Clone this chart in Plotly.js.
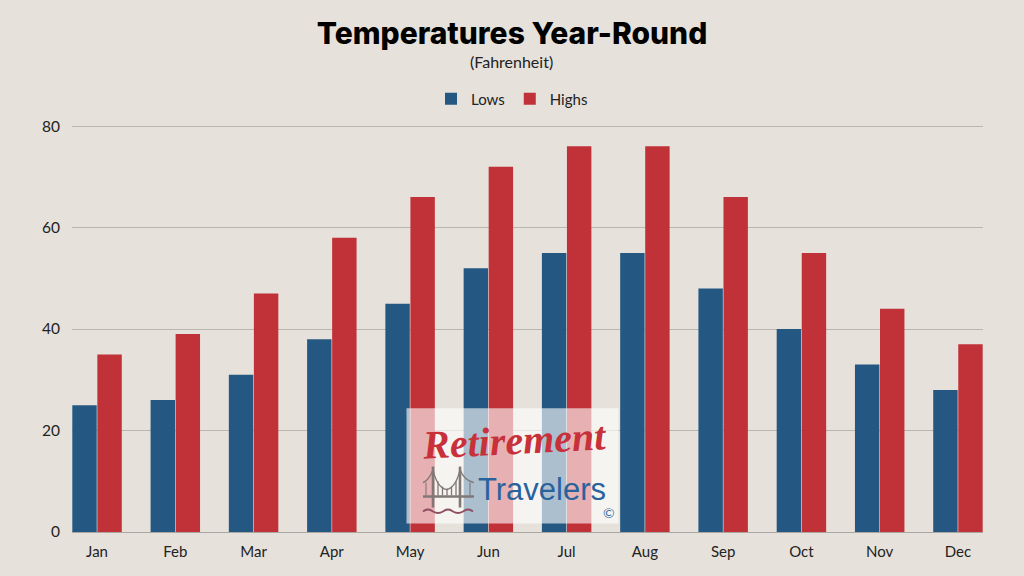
<!DOCTYPE html>
<html><head><meta charset="utf-8">
<script src="https://cdn.plot.ly/plotly-3.0.1.min.js"></script>
<style>html,body{margin:0;padding:0;background:#E6E1DB}</style></head>
<body><div id="chart" style="width:1024px;height:576px"></div>
<script>
const months = ["Jan","Feb","Mar","Apr","May","Jun","Jul","Aug","Sep","Oct","Nov","Dec"];
const lows = [25,26,31,38,45,52,55,55,48,40,33,28];
const highs = [35,39,47,58,66,72,76,76,66,55,44,37];
const tickValues = [0,20,40,60,80];
const seriesNames = ["Lows","Highs"];
const titleText = "Temperatures Year-Round";
const subtitleText = "(Fahrenheit)";

const L=72,R=983,T=121,B=532.5;
const px=x=>(x-L)/(R-L), py=y=>(B-y)/(B-T);
const P=(s)=>s.replace(/(-?[\d.]+),(-?[\d.]+)/g,(m,a,b)=>px(+a).toFixed(5)+","+py(+b).toFixed(5));
const FONT='Lato, "Open Sans", sans-serif';
const grey='#7f7877';
function path(d,color,w){return {type:'path',xref:'paper',yref:'paper',layer:'above',path:P(d),line:{color:color,width:w}};}
const shapes=[
 {type:'rect',xref:'paper',yref:'paper',layer:'above',x0:px(406.5),x1:px(618.5),y0:py(524),y1:py(408.5),fillcolor:'rgba(255,255,255,0.62)',line:{width:0}},
 path('M433,508 L433,467',grey,2.6),path('M460,508 L460,467',grey,2.6),
 path('M423,497 L474,497',grey,2.6),
 path('M423,483 Q429,481 433,470 Q437,488 446.5,490 Q456,488 460,470 Q464,481 474,483',grey,1.3),
 path('M438,482 L438,496',grey,1.3),path('M442.500,487 L442.500,496',grey,1.3),path('M447,489 L447,496',grey,1.3),path('M451.500,487 L451.500,496',grey,1.3),path('M456,482 L456,496',grey,1.3),
 path('M426,483 L426,496',grey,1.1),path('M470,483 L470,496',grey,1.1),
 path('M423,512 Q428,508 433,512 Q438,515 443,512 Q448,508 453,512 Q458,515 463,512 Q468,508 473,512','#8f4f62',1.8)
];
const annotations=[
 {text:subtitleText,xref:'paper',yref:'paper',x:px(511.5),y:py(61),xanchor:'center',yanchor:'middle',showarrow:false,font:{family:FONT,size:16,color:'#222'}},
 {text:'<i>Retirement</i>',xref:'paper',yref:'paper',x:px(514),y:py(441),xanchor:'center',yanchor:'middle',showarrow:false,textangle:-3,font:{family:'"Liberation Serif",serif',size:40,weight:700,color:'#c8303a'}},
 {text:'Travelers',xref:'paper',yref:'paper',x:px(542),y:py(490),xanchor:'center',yanchor:'middle',showarrow:false,font:{family:'"Liberation Sans",sans-serif',size:31,color:'#2a629c'}},
 {text:'©',xref:'paper',yref:'paper',x:px(609),y:py(513),xanchor:'center',yanchor:'middle',showarrow:false,font:{family:FONT,size:14,color:'#3d6f9e'}}
];
const data=[
 {type:'bar',name:seriesNames[0],x:months,y:lows,marker:{color:'#245882'}},
 {type:'bar',name:seriesNames[1],x:months,y:highs,marker:{color:'#C03138'}}
];
const layout={
 width:1024,height:576,paper_bgcolor:'#E6E1DB',plot_bgcolor:'#E6E1DB',
 margin:{l:L,r:1024-R,t:T,b:576-B,pad:0},
 title:{text:titleText,x:px(512),xanchor:'center',xref:'paper',y:1-33/576,yref:'container',yanchor:'middle',font:{family:'Inter, Lato, sans-serif',size:30,weight:800,color:'#000'}},
 barmode:'group',bargap:0.36,bargroupgap:0.025,
 showlegend:true,
 legend:{orientation:'h',x:px(512),xanchor:'center',y:py(99),yanchor:'middle',font:{family:FONT,size:15,color:'#222'},traceorder:'normal'},
 xaxis:{type:'category',categoryorder:'array',categoryarray:months,range:[-0.32,11.32],showgrid:false,zeroline:false,showline:true,linecolor:'#aaa6a1',linewidth:1,ticks:'',ticklabelstandoff:6,tickfont:{family:FONT,size:15,color:'#222'},automargin:false},
 yaxis:{range:[0,81],tickvals:tickValues,ticktext:tickValues.map(String),showgrid:true,gridcolor:'#b9b5af',gridwidth:1,zeroline:false,showline:false,ticks:'',ticklabelstandoff:11,tickfont:{family:FONT,size:15.5,color:'#222'},automargin:false},
 shapes:shapes,annotations:annotations
};
Plotly.newPlot('chart',data,layout,{displayModeBar:false,staticPlot:true});
</script></body></html>
